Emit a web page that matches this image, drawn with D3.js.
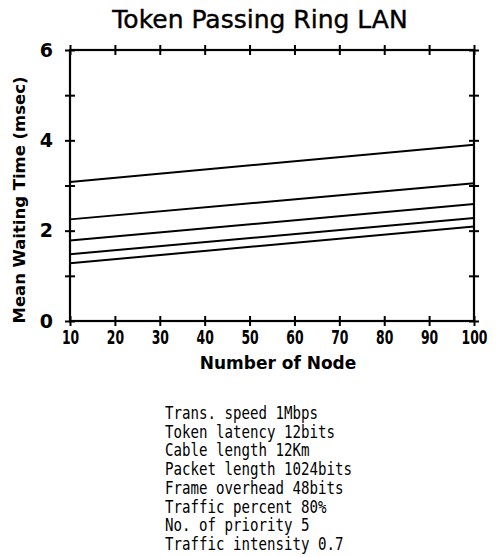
<!DOCTYPE html>
<html><head><meta charset="utf-8">
<script src="https://cdn.jsdelivr.net/npm/d3@7"></script>
<style>body{margin:0;background:#fff}svg{display:block}</style>
</head><body>
<svg id="c" width="499" height="557"></svg>
<script>
const nodes = [10, 100];
const series1 = [3.08, 3.90];
const series2 = [2.25, 3.05];
const series3 = [1.78, 2.59];
const series4 = [1.48, 2.28];
const series5 = [1.28, 2.09];
const xTicks = [10,20,30,40,50,60,70,80,90,100];
const yMajor = [0,2,4,6];
const yMinor = [1,3,5];
const notes = ["Trans. speed 1Mbps","Token latency 12bits","Cable length 12Km","Packet length 1024bits","Frame overhead 48bits","Traffic percent 80%","No. of priority 5","Traffic intensity 0.7"];

const svg = d3.select("#c");
const L=70,R=474,T=50,B=321;
const x = d3.scaleLinear().domain([10,100]).range([L,R]);
const y = d3.scaleLinear().domain([0,6]).range([B,T]);
const font = "'DejaVu Sans', sans-serif";

// title
svg.append("text").attr("x",260).attr("y",28).attr("text-anchor","middle")
  .attr("font-family",font).attr("font-size",25).attr("font-weight","500")
  .attr("stroke","#000").attr("stroke-width",0.4).attr("fill","#000").text("Token Passing Ring LAN");

// bottom axis
const gb = svg.append("g").attr("transform",`translate(0,${B})`)
  .call(d3.axisBottom(x).tickValues(xTicks).tickSize(5).tickPadding(4).tickFormat(d3.format("d")));
gb.selectAll(".tick line").attr("y1",-5).attr("y2",5);
// top axis
const gt = svg.append("g").attr("transform",`translate(0,${T})`)
  .call(d3.axisTop(x).tickValues(xTicks).tickSize(5).tickFormat(""));
gt.selectAll(".tick line").attr("y1",-5).attr("y2",5);
// left axis
const gl = svg.append("g").attr("transform",`translate(${L},0)`)
  .call(d3.axisLeft(y).tickValues(yMajor.concat(yMinor)).tickSize(5).tickPadding(12)
    .tickFormat(d=>yMajor.includes(d)?d:""));
gl.selectAll(".tick line").attr("x1",-5).attr("x2",5);
// right axis
const gr = svg.append("g").attr("transform",`translate(${R},0)`)
  .call(d3.axisRight(y).tickValues(yMajor.concat(yMinor)).tickSize(5).tickFormat(""));
gr.selectAll(".tick line").attr("x1",-5).attr("x2",5);

[gb,gt,gl,gr].forEach(g=>{
  g.select(".domain").remove();
  g.selectAll(".tick line").attr("stroke","#000").attr("stroke-width",2);
  g.selectAll("text").attr("font-family",font).attr("font-size",19).attr("font-weight","bold").attr("fill","#000");
});
gb.selectAll("text").attr("font-size",20).attr("transform","scale(0.62,1)");
svg.append("rect").attr("x",L).attr("y",T).attr("width",R-L).attr("height",B-T)
  .attr("fill","none").attr("stroke","#000").attr("stroke-width",2.2);

// series lines
const line = d3.line().x((d,i)=>x(nodes[i])).y(d=>y(d));
[series1,series2,series3,series4,series5].forEach(s=>{
  svg.append("path").datum(s).attr("d",line).attr("fill","none").attr("stroke","#000").attr("stroke-width",2);
});

// axis titles
svg.append("text").attr("x",278).attr("y",369).attr("text-anchor","middle")
  .attr("font-family",font).attr("font-size",17).attr("font-weight","bold").text("Number of Node");
svg.append("text").attr("transform","translate(25,200) rotate(-90)").attr("text-anchor","middle")
  .attr("font-family",font).attr("font-size",16.5).attr("font-weight","bold")
  .attr("textLength",247).attr("lengthAdjust","spacingAndGlyphs").text("Mean Waiting Time (msec)");

// notes
svg.append("g").selectAll("text").data(notes).join("text")
  .attr("x",165).attr("y",(d,i)=>419+i*18.7)
  .attr("font-family","'DejaVu Sans Mono', monospace").attr("font-size",17.5)
  .attr("textLength",d=>d.length*8.5).attr("lengthAdjust","spacingAndGlyphs")
  .text(d=>d);
</script>
</body></html>
